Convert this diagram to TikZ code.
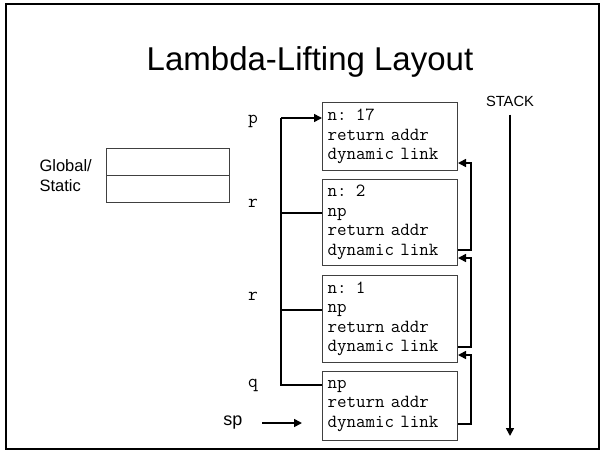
\documentclass[tikz,border=0pt]{standalone}
\usepackage{fontspec}
\setmainfont{Liberation Sans}
\usetikzlibrary{arrows.meta,positioning}

\begin{document}
\begin{tikzpicture}[x=1pt, y=-1pt,
  frame/.style={draw=black!75, line width=1pt, align=left, text width=125pt, inner xsep=5pt, inner ysep=0pt, font=\fontsize{18.5}{19.5}\selectfont\ttfamily},
  cell/.style={draw=black!75, line width=1pt, minimum width=123pt, minimum height=27pt, inner sep=0pt, outer sep=0pt},
  ptr/.style={font=\fontsize{19}{20}\selectfont\ttfamily},
  wire/.style={line width=1.6pt},
  tip/.style={-{Triangle[length=8pt,width=8pt]}}]

\useasboundingbox (0,0) rectangle (604,452);
\draw[line width=2pt] (6,4) rectangle (599,449);

% Title
\node[font=\fontsize{33}{36}\selectfont] (title) at (310,62) {Lambda-Lifting Layout};

% Global / static area
\node[cell, anchor=north west] (gs1) at (106,148) {};
\node[cell, below=0pt of gs1] (gs2) {};
\node[font=\fontsize{16.5}{20}\selectfont, align=left, anchor=west] (gslabel) at (36,176) {Global/\\Static};

% Stack frames
\node[frame, anchor=north west, minimum height=68pt] (f1) at (322,102) {n: 17\\return addr\\dynamic link};
\node[frame, below=8pt of f1, minimum height=86pt] (f2) {n: 2\\np\\return addr\\dynamic link};
\node[frame, below=9pt of f2, minimum height=87pt] (f3) {n: 1\\np\\return addr\\dynamic link};
\node[frame, below=8pt of f3, minimum height=69pt] (f4) {np\\return addr\\dynamic link};

% Procedure names
\node[ptr] (p) at (253,121) {p};
\node[ptr] (r1) at (253,203) {r};
\node[ptr] (r2) at (253,296) {r};
\node[ptr] (q) at (253,385) {q};
\node[font=\fontsize{18}{20}\selectfont, anchor=east] (sp) at (246,423) {sp};

% Static links
\coordinate (spine) at (281,0);
\coordinate (pin) at ([yshift=-16pt]f1.north west);
\coordinate (r1in) at ([yshift=-34pt]f2.north west);
\coordinate (r2in) at ([yshift=-35pt]f3.north west);
\coordinate (qin) at ([yshift=-14pt]f4.north west);
\draw[wire] (qin) -| (spine |- pin);
\draw[wire, tip] (spine |- pin) -- (pin);
\draw[wire] (spine |- r1in) -- (r1in);
\draw[wire] (spine |- r2in) -- (r2in);

% Dynamic links
\draw[wire, tip] ([yshift=16pt]f2.south east) -- ++(13,0) |- ([yshift=8pt]f1.south east);
\draw[wire, tip] ([yshift=16pt]f3.south east) -- ++(13,0) |- ([yshift=8pt]f2.south east);
\draw[wire, tip] ([yshift=17pt]f4.south east) -- ++(13,0) |- ([yshift=8pt]f3.south east);

% Stack pointer
\draw[wire, tip] ([xshift=16pt]sp.east) -- ([xshift=-20pt]f4.west |- sp.east);

% Stack direction
\node[font=\fontsize{14.7}{16}\selectfont] (stack) at (510,101) {STACK};
\coordinate (stackend) at (510,436);
\draw[wire, tip] ([yshift=-5pt]stack.south) -- (stackend);

\end{tikzpicture}
\end{document}
